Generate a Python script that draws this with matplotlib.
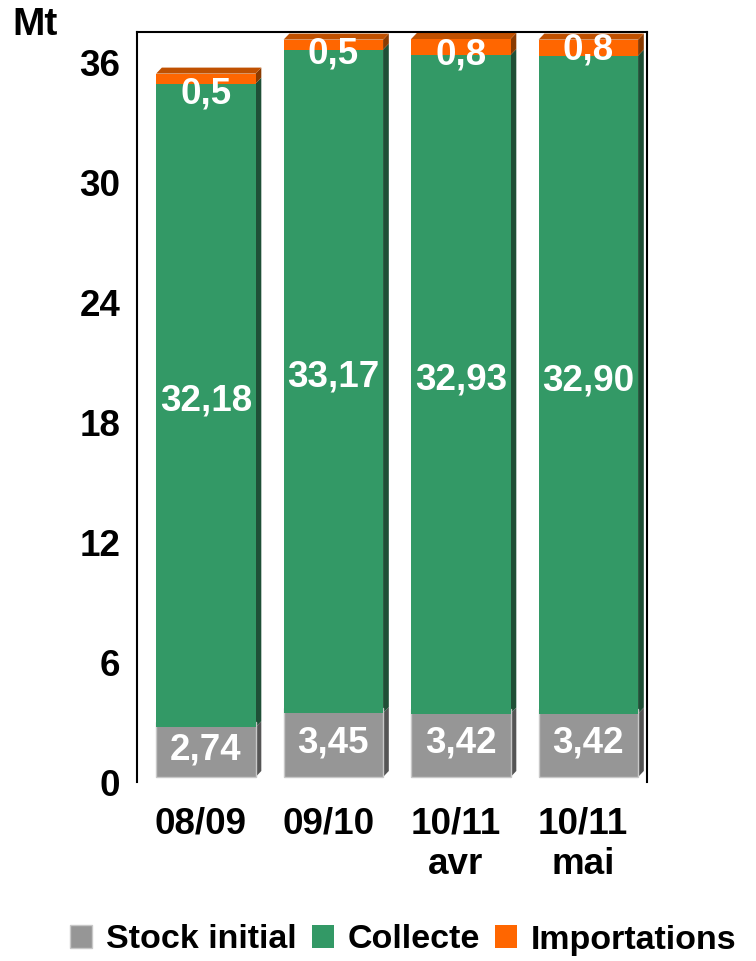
import matplotlib.pyplot as plt
from matplotlib.patches import Polygon, Patch

plt.rcParams['font.family'] = ['Liberation Sans', 'DejaVu Sans']
plt.rcParams['font.weight'] = 'bold'

categories = ["08/09", "09/10", "10/11\navr", "10/11\nmai"]
stock = [2.74, 3.45, 3.42, 3.42]
collecte = [32.18, 33.17, 32.93, 32.90]
imports = [0.5, 0.5, 0.8, 0.8]
stock_lbl = ["2,74", "3,45", "3,42", "3,42"]
collecte_lbl = ["32,18", "33,17", "32,93", "32,90"]
imports_lbl = ["0,5", "0,5", "0,8", "0,8"]

c_stock, c_stock_side = "#969696", "#555555"
c_coll, c_coll_side = "#339966", "#1f4f36"
c_imp, c_imp_side, c_imp_top = "#ff6600", "#8a3a00", "#c05000"

fs = 26.5

fig = plt.figure(figsize=(7.56, 9.61), dpi=100)
ax = fig.add_axes([137 / 756, 1 - 782 / 961, 510 / 756, 750 / 961])

w = 0.78
off = 0.04
dx, dy = 0.045, 0.3
xs = [i + off for i in range(len(categories))]


def side(x, b, t, col):
    x1 = x + w / 2
    ax.add_patch(Polygon([(x1, b), (x1 + dx, b + dy), (x1 + dx, t + dy), (x1, t)],
                         closed=True, facecolor=col, edgecolor='none', zorder=2))


def top(x, t, col):
    x0, x1 = x - w / 2, x + w / 2
    ax.add_patch(Polygon([(x0, t), (x0 + dx, t + dy), (x1 + dx, t + dy), (x1, t)],
                         closed=True, facecolor=col, edgecolor='none', zorder=2))


for i, x in enumerate(xs):
    s, c, m = stock[i], collecte[i], imports[i]
    ax.bar(x, s, w, bottom=0.25, color=c_stock, edgecolor="#c8c8c8", linewidth=1, zorder=3)
    side(x, 0.25, s, c_stock_side)
    ax.bar(x, c, w, bottom=s, color=c_coll, zorder=3)
    side(x, s, s + c, c_coll_side)
    ax.bar(x, m, w, bottom=s + c, color=c_imp, zorder=3)
    side(x, s + c, s + c + m, c_imp_side)
    top(x, s + c + m, c_imp_top)

imp_off = [-0.5, -0.2, 0.0, 0.3]
for i, x in enumerate(xs):
    s, c = stock[i], collecte[i]
    ax.text(x, s / 2 + 0.25, stock_lbl[i], ha='center', va='center',
            color='white', fontsize=fs, fontweight='bold', zorder=5)
    ax.text(x, s + c / 2 + 0.2, collecte_lbl[i], ha='center', va='center',
            color='white', fontsize=fs, fontweight='bold', zorder=5)
    ax.text(x, s + c + imp_off[i], imports_lbl[i], ha='center', va='center',
            color='white', fontsize=fs, fontweight='bold', zorder=5)

ax.set_xlim(-0.5, 3.5)
ax.set_ylim(0, 37.5)
ax.set_yticks(range(0, 37, 6))
ax.set_xticks(range(len(categories)))
ax.set_xticklabels(categories, fontsize=fs, fontweight='bold', linespacing=1.2)
ax.tick_params(axis='y', length=0, pad=12, labelsize=fs)
ax.tick_params(axis='x', length=0, pad=18)
ax.spines['bottom'].set_visible(False)
for sp in ['left', 'top', 'right']:
    ax.spines[sp].set_linewidth(1.5)

fig.text(12 / 756, 1 - 25 / 961, "Mt", fontsize=28, fontweight='bold', va='center', ha='left')

handles = [Patch(facecolor=c_stock, edgecolor="#c8c8c8"),
           Patch(facecolor=c_coll), Patch(facecolor=c_imp)]
fig.legend(handles, ["Stock initial", "Collecte", "Importations"],
           loc='center left', bbox_to_anchor=(70 / 756, 1 - 940 / 961),
           ncol=3, frameon=False, fontsize=24.5, handlelength=0.65, handleheight=0.65,
           handletextpad=0.4, columnspacing=0.45, borderaxespad=0, borderpad=0)

fig.savefig("out.png", dpi=100)
